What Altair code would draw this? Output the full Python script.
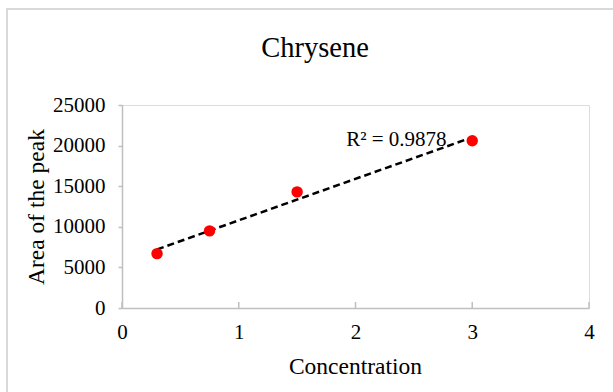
import altair as alt
import pandas as pd

# Calibration data for chrysene
concentration = [0.3, 0.75, 1.5, 3.0]
peak_area = [6700, 9500, 14300, 20600]

x_ticks = [0, 1, 2, 3, 4]
y_ticks = [0, 5000, 10000, 15000, 20000, 25000]

chart_title = ["Chrysene"]
r2_text = ["R\u00b2 = 0.9878"]
r2_x = [2.78]
r2_y = [20750]

FONT = "Liberation Serif"
AXIS_GRAY = "#bfbfbf"

points_df = pd.DataFrame({"Concentration": concentration, "Area": peak_area})
ticks_df = pd.DataFrame({"t": x_ticks})
label_df = pd.DataFrame({"label": r2_text, "x": r2_x, "y": r2_y})
title_df = pd.DataFrame({"title": chart_title})

x_scale = alt.Scale(domain=[0, 4], nice=False, zero=False)
y_scale = alt.Scale(domain=[0, 25000], nice=False)

x_axis = alt.Axis(
    values=x_ticks, format="d", ticks=False, tickSize=0, grid=False,
    domainColor=AXIS_GRAY, domainWidth=1.5, labelFlush=False,
    labelFont=FONT, labelFontSize=21, labelColor="#000000",
    labelPadding=24, labelBaseline="middle", labelAngle=0,
    title="Concentration", titleFont=FONT, titleFontSize=23.5,
    titleFontWeight="normal", titleColor="#000000",
    titleX=233, titleY=58, titleBaseline="middle",
)
y_axis = alt.Axis(
    values=y_ticks, format="d", ticks=True, tickSize=4, tickColor=AXIS_GRAY,
    tickWidth=1.5, grid=False, domainColor=AXIS_GRAY, domainWidth=1.5,
    labelFlush=False,
    labelFont=FONT, labelFontSize=21, labelColor="#000000",
    labelPadding=13, labelBaseline="middle",
    title="Area of the peak", titleFont=FONT, titleFontSize=23.5,
    titleFontWeight="normal", titleColor="#000000",
    titleAngle=-90, titleX=-86, titleY=101.5, titleBaseline="middle",
    titleAlign="center",
)

base = alt.Chart(points_df)

# Outer chart-area frame
frame = base.mark_rect(fill=None, stroke="#d9d9d9", strokeWidth=1.5).encode(
    x=alt.value(-115), x2=alt.value(510), y=alt.value(-96), y2=alt.value(300)
)

# Chart heading, centred over the whole chart area
heading = alt.Chart(title_df).mark_text(
    font=FONT, fontSize=28.5, color="#000000", align="center", baseline="alphabetic"
).encode(x=alt.value(193), y=alt.value(-48), text="title:N")

# Linear least-squares trendline
trend = base.transform_regression(
    "Concentration", "Area", method="linear"
).mark_line(color="#000000", strokeWidth=2.5, strokeDash=[7, 4]).encode(
    x=alt.X("Concentration:Q", scale=x_scale, axis=x_axis),
    y=alt.Y("Area:Q", scale=y_scale, axis=y_axis),
)

points = base.mark_circle(color="#ff0000", opacity=1, size=130).encode(
    x=alt.X("Concentration:Q", scale=x_scale),
    y=alt.Y("Area:Q", scale=y_scale),
)

# Inward tick marks on the x axis
xticks = alt.Chart(ticks_df).mark_rule(color=AXIS_GRAY, strokeWidth=1.5).encode(
    x=alt.X("t:Q", scale=x_scale),
    y=alt.value(203),
    y2=alt.value(197),
)

r2 = alt.Chart(label_df).mark_text(
    font=FONT, fontSize=21, color="#000000", align="right", baseline="middle"
).encode(
    x=alt.X("x:Q", scale=x_scale),
    y=alt.Y("y:Q", scale=y_scale),
    text="label:N",
)

chart = alt.layer(frame, heading, trend, xticks, points, r2).properties(
    width=467,
    height=203,
    autosize=alt.AutoSizeParams(type="none"),
    padding={"left": 122, "top": 105, "right": 24, "bottom": 84},
).configure_view(stroke=None).configure(background="#ffffff")

chart.save("out.html", embed_options={"renderer": "svg", "actions": False})
